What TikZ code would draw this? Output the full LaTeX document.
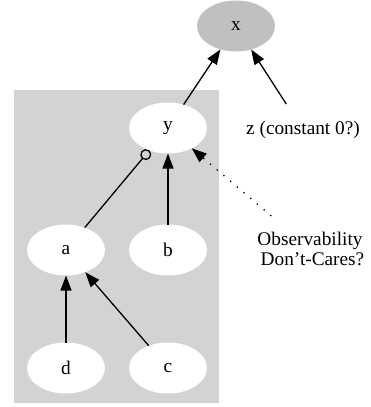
\documentclass[tikz,border=0pt]{standalone}
\usepackage{fontspec}
\setmainfont{Liberation Serif}
\usetikzlibrary{shapes.geometric,arrows.meta}
\definecolor{clustergray}{HTML}{D3D3D3}
\definecolor{nodegray}{HTML}{C0C0C0}
\begin{document}
\begin{tikzpicture}[x=1pt,y=-1pt,
  every node/.style={font=\fontsize{19.3}{20}\selectfont},
  gnode/.style={ellipse,fill=white,draw=none,minimum width=78pt,minimum height=51pt,inner sep=0pt,outer sep=0pt},
  plain/.style={inner sep=0pt,outer sep=0pt,minimum height=52pt},
  edge/.style={line width=1.3pt,-{Triangle[length=15pt,width=11pt]}},
  odotedge/.style={line width=1.3pt,-{Circle[open,length=11pt,line width=1.3pt]}},
  dotedge/.style={line width=1.3pt,dash pattern=on 1.3pt off 7.5pt,-{Triangle[length=15pt,width=11pt]}}]
\useasboundingbox (0,0) rectangle (370,407);
\fill[clustergray] (14,90) rectangle (219,403);
\node[gnode,fill=nodegray] (x) at (236,26) {x};
\node[gnode] (y) at (168,128) {y};
\node[gnode] (a) at (66,250) {a};
\node[gnode] (b) at (168,250) {b};
\node[gnode] (d) at (66,368) {d};
\node[gnode] (c) at (168,368) {c};
\node[plain] (z) at (303,130) {z (constant 0?)};
\node[inner sep=0pt,outer sep=0pt,minimum height=66pt,align=center] (o) at (310,249) {Observability\\\hspace*{5pt}Don’t-Cares?};
\draw[edge] (y) -- (x);
\draw[edge] (z) -- (x);
\draw[odotedge] (a) -- (y);
\draw[edge] (b) -- (y);
\draw[dotedge] (o) -- (y);
\draw[edge] (d) -- (a);
\draw[edge] (c) -- (a);
\end{tikzpicture}
\end{document}
